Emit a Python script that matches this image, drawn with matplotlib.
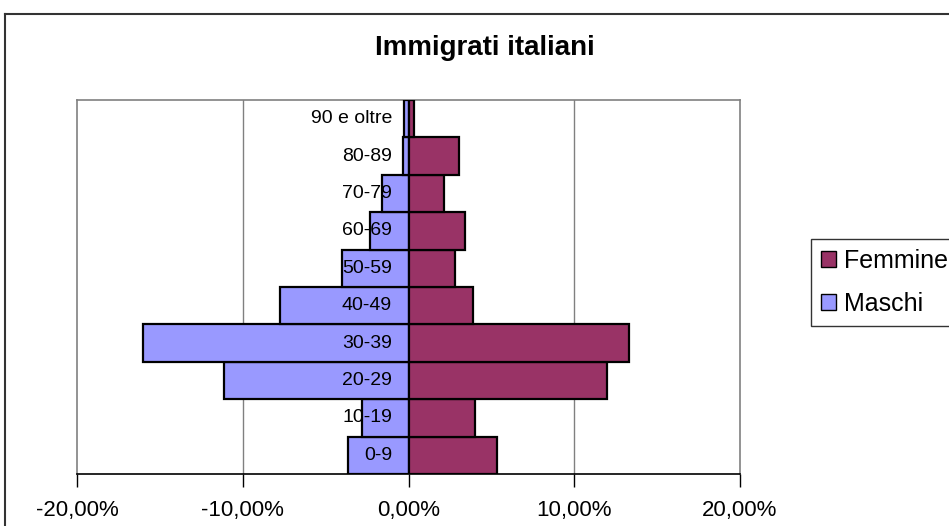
import matplotlib
matplotlib.use('Agg')
import matplotlib.pyplot as plt
from matplotlib.patches import Patch
from matplotlib.lines import Line2D

plt.rcParams['font.family'] = ['Liberation Sans', 'DejaVu Sans']

# Age classes, bottom to top, and shares (%) by sex
age_groups = ['0-9', '10-19', '20-29', '30-39', '40-49',
              '50-59', '60-69', '70-79', '80-89', '90 e oltre']
maschi = [3.64, 2.78, 11.13, 16.0, 7.73, 4.0, 2.3, 1.6, 0.36, 0.25]
femmine = [5.35, 4.0, 12.0, 13.33, 3.88, 2.8, 3.4, 2.17, 3.05, 0.35]
x_ticks = [-20, -10, 0, 10, 20]

COL_F = '#993366'
COL_M = '#9999FF'

fig = plt.figure(figsize=(9.49, 5.26), dpi=100)
ax = fig.add_axes([77 / 949, 52 / 526, 663 / 949, 374 / 526])

pos = list(range(len(age_groups)))
ax.barh(pos, [-v for v in maschi], height=1.0, color=COL_M,
        edgecolor='black', linewidth=1.6, zorder=3)
ax.barh(pos, femmine, height=1.0, color=COL_F,
        edgecolor='black', linewidth=1.6, zorder=3)

ax.set_xlim(-20, 20)
ax.set_ylim(-0.5, len(age_groups) - 0.5)

# category labels sit just left of the zero line
for p, lab in zip(pos, age_groups):
    ax.text(-1.0, p, lab, ha='right', va='center', fontsize=14, zorder=5)

for g in [-10, 10]:
    ax.axvline(g, color='#808080', linewidth=1.0, zorder=1)

for side in ['left', 'right', 'top']:
    ax.spines[side].set_color('#808080')
    ax.spines[side].set_linewidth(1.2)
ax.spines['bottom'].set_color('black')
ax.spines['bottom'].set_linewidth(1.2)

ax.set_yticks([])
ax.set_xticks(x_ticks)
ax.set_xticklabels(['{:.2f}%'.format(t).replace('.', ',') for t in x_ticks],
                   fontsize=16)
ax.tick_params(axis='x', direction='out', length=9, width=1.0,
               color='black', pad=10)

fig.text(0.511, 1 - 48 / 526, 'Immigrati italiani', ha='center', va='center',
         fontsize=20, fontweight='bold')

# chart frame (left and top edges visible)
fig.add_artist(Line2D([5 / 949, 5 / 949], [0, 1 - 14 / 526],
                      transform=fig.transFigure, color='#333333', linewidth=1.5))
fig.add_artist(Line2D([5 / 949, 1], [1 - 14 / 526, 1 - 14 / 526],
                      transform=fig.transFigure, color='#333333', linewidth=1.5))

handles = [Patch(facecolor=COL_F, edgecolor='black', label='Femmine'),
           Patch(facecolor=COL_M, edgecolor='black', label='Maschi')]
leg = fig.legend(handles=handles, loc='upper left',
                 bbox_to_anchor=(811 / 949, 1 - 239 / 526),
                 fontsize=18, frameon=True, fancybox=False,
                 edgecolor='black', handlelength=0.6, handleheight=0.6,
                 handletextpad=0.33, borderpad=0.38, labelspacing=0.78,
                 borderaxespad=0)
leg.get_frame().set_linewidth(1.0)

fig.savefig('out.png', dpi=100)
